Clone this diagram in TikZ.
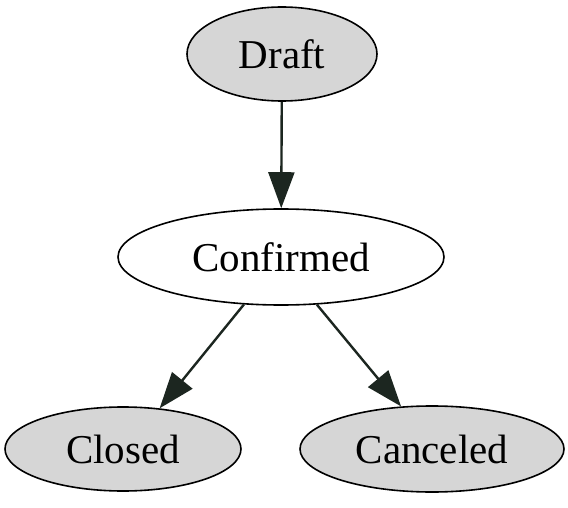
\documentclass[tikz,border=0pt]{standalone}
\usepackage{fontspec}
\setmainfont{Liberation Serif}
\usetikzlibrary{shapes.geometric,arrows.meta}
\definecolor{stategray}{HTML}{D6D6D6}
\definecolor{edgeink}{HTML}{1C2620}
\begin{document}
\begin{tikzpicture}[x=1pt,y=-1pt,
  state/.style={ellipse,draw=black,line width=1.6pt,inner sep=0pt,
    font=\fontsize{41}{41}\selectfont},
  grayst/.style={state,fill=stategray},
  whitest/.style={state,fill=white},
  flow/.style={draw=edgeink,line width=2.4pt,
    -{Triangle[length=36pt,width=26pt]}}]
\useasboundingbox[fill=white] (0,0) rectangle (568,508);
\node[grayst,minimum width=190pt,minimum height=94pt] (draft) at (282,54) {Draft};
\node[whitest,minimum width=326pt,minimum height=96pt] (conf) at (281,257) {Confirmed};
\node[grayst,minimum width=236pt,minimum height=84pt] (closed) at (123,449) {Closed};
\node[grayst,minimum width=264pt,minimum height=86pt] (canc) at (432,449) {Canceled};
\draw[flow] (draft) -- (conf);
\draw[flow] (conf.-128) -- (closed.48);
\draw[flow] (conf.-53) -- (canc.126);
\end{tikzpicture}
\end{document}
